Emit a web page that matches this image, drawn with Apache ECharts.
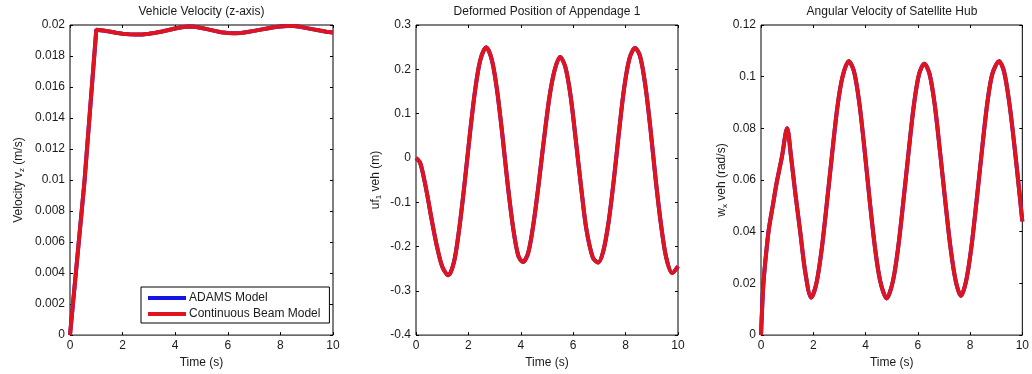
<!DOCTYPE html>
<html>
<head>
<meta charset="utf-8">
<script src="https://cdn.jsdelivr.net/npm/echarts@6/dist/echarts.min.js"></script>
<style>
html,body{margin:0;padding:0;background:#fff;}
#c{width:1032px;height:374px;}
</style>
</head>
<body>
<div id="c"></div>
<script>
// ---- Data ----
var xTicks = [0, 2, 4, 6, 8, 10];

// Panel 1: Vehicle Velocity (z-axis)
var t1 = [0, 0.55, 1.0, 1.25, 1.5, 1.75, 2.0, 2.25, 2.5, 2.75, 3.0, 3.25, 3.5, 3.75, 4.0, 4.25, 4.5, 4.75, 5.0, 5.25, 5.5, 5.75, 6.0, 6.25, 6.5, 6.75, 7.0, 7.25, 7.5, 7.75, 8.0, 8.25, 8.5, 8.75, 9.0, 9.25, 9.5, 9.75, 10];
var v1 = [0, 0.0099, 0.0197, 0.01965, 0.01958, 0.0195, 0.01944, 0.0194, 0.01938, 0.01939, 0.01943, 0.0195, 0.01958, 0.01968, 0.01977, 0.01985, 0.0199, 0.01988, 0.01981, 0.01972, 0.01962, 0.01953, 0.01948, 0.01947, 0.01949, 0.01955, 0.01962, 0.0197, 0.01978, 0.01986, 0.01991, 0.01994, 0.01993, 0.01988, 0.0198, 0.01972, 0.01964, 0.01957, 0.01952];
var yTicks1 = [0, 0.002, 0.004, 0.006, 0.008, 0.01, 0.012, 0.014, 0.016, 0.018, 0.02];

// Panel 2: Deformed Position of Appendage 1
var t2 = [0, 0.15, 0.3, 0.45, 0.6, 0.8, 1.0, 1.23, 1.45, 1.65, 1.85, 2.05, 2.25, 2.45, 2.68, 2.9, 3.1, 3.3, 3.5, 3.7, 3.9, 4.08, 4.28, 4.48, 4.68, 4.88, 5.1, 5.3, 5.5, 5.7, 5.9, 6.1, 6.3, 6.5, 6.75, 6.95, 7.15, 7.35, 7.55, 7.75, 7.95, 8.15, 8.36, 8.55, 8.75, 8.95, 9.15, 9.35, 9.55, 9.78, 10];
var u2 = [0, -0.01, -0.045, -0.09, -0.14, -0.2, -0.245, -0.265, -0.235, -0.16, -0.06, 0.05, 0.15, 0.22, 0.25, 0.22, 0.15, 0.05, -0.06, -0.155, -0.22, -0.235, -0.215, -0.15, -0.06, 0.04, 0.14, 0.2, 0.228, 0.205, 0.14, 0.04, -0.065, -0.16, -0.225, -0.236, -0.21, -0.145, -0.05, 0.06, 0.16, 0.225, 0.248, 0.23, 0.165, 0.065, -0.05, -0.15, -0.225, -0.26, -0.245];
var yTicks2 = [-0.4, -0.3, -0.2, -0.1, 0, 0.1, 0.2, 0.3];

// Panel 3: Angular Velocity of Satellite Hub
var t3 = [0, 0.05, 0.1, 0.2, 0.3, 0.45, 0.6, 0.8, 1.0, 1.15, 1.3, 1.5, 1.7, 1.92, 2.12, 2.32, 2.52, 2.72, 2.92, 3.12, 3.36, 3.56, 3.76, 3.96, 4.16, 4.36, 4.56, 4.81, 5.05, 5.25, 5.45, 5.65, 5.85, 6.05, 6.25, 6.45, 6.65, 6.85, 7.05, 7.25, 7.45, 7.65, 7.85, 8.05, 8.25, 8.45, 8.65, 8.85, 9.11, 9.3, 9.5, 9.7, 9.9, 10];
var w3 = [0, 0.012, 0.021, 0.032, 0.041, 0.05, 0.059, 0.069, 0.080, 0.069, 0.056, 0.04, 0.024, 0.0145, 0.02, 0.033, 0.051, 0.07, 0.088, 0.1, 0.106, 0.102, 0.09, 0.072, 0.052, 0.034, 0.021, 0.0142, 0.021, 0.034, 0.052, 0.071, 0.089, 0.101, 0.105, 0.101, 0.089, 0.071, 0.052, 0.034, 0.021, 0.0152, 0.021, 0.034, 0.052, 0.071, 0.089, 0.101, 0.106, 0.102, 0.09, 0.073, 0.054, 0.044];
var yTicks3 = [0, 0.02, 0.04, 0.06, 0.08, 0.1, 0.12];

var titles = ['Vehicle Velocity (z-axis)', 'Deformed Position of Appendage 1', 'Angular Velocity of Satellite Hub'];
var yNames = ['{m|Velocity v}{s|z}{m| (m/s)}', '{m|uf}{s|1}{m| veh (m)}', '{m|w}{s|x}{m| veh (rad/s)}'];
var seriesNames = ['ADAMS Model', 'Continuous Beam Model'];

// ---- Chart ----
var FONT = '"Liberation Sans", Arial, sans-serif';
var TXT = '#1a1a1a';
var grids = [
  {left: 70, top: 25, width: 263, height: 312},
  {left: 416, top: 25, width: 262, height: 312},
  {left: 761, top: 25, width: 262, height: 312}
];
var yTickSets = [yTicks1, yTicks2, yTicks3];
var nameGaps = [44, 33, 29];
var smoothing = [false, 0.3, 0.3];
var pairs = [[t1, v1], [t2, u2], [t3, w3]];

function pts(t, v) { return t.map(function (x, i) { return [x, v[i]]; }); }
function fmt(v) { return String(+v.toFixed(4)); }

var option = {
  backgroundColor: '#fff',
  animation: false,
  textStyle: {fontFamily: FONT},
  title: titles.map(function (tt, i) {
    return {text: tt, left: grids[i].left + grids[i].width / 2, top: 6, textAlign: 'center',
      padding: 0, textStyle: {fontSize: 12, fontWeight: 'normal', color: TXT, fontFamily: FONT}};
  }),
  grid: grids.map(function (g) {
    return {left: g.left, top: g.top, width: g.width, height: g.height, show: true,
      borderColor: '#000', borderWidth: 1, backgroundColor: '#fff', containLabel: false};
  }),
  legend: {
    orient: 'vertical', left: 141, top: 287,
    data: seriesNames,
    icon: 'rect', itemWidth: 38, itemHeight: 4, itemGap: 4,
    padding: [5, 9, 3, 7],
    borderColor: '#000', borderWidth: 1, backgroundColor: '#fff',
    textStyle: {fontSize: 12, color: TXT, fontFamily: FONT, padding: [0, 0, 0, -2]}
  },
  xAxis: [], yAxis: [], series: []
};

var tickStyle = {inside: true, length: 3, lineStyle: {color: '#000'}};

for (var i = 0; i < 3; i++) {
  var yt = yTickSets[i];
  var yint = +(yt[1] - yt[0]).toFixed(6);
  // bottom x
  option.xAxis.push({
    gridIndex: i, type: 'value', min: xTicks[0], max: xTicks[xTicks.length - 1], interval: xTicks[1] - xTicks[0],
    position: 'bottom',
    name: 'Time (s)', nameLocation: 'middle', nameGap: 19,
    nameTextStyle: {fontSize: 12, color: TXT, fontFamily: FONT},
    axisLine: {show: false, onZero: false}, splitLine: {show: false},
    axisTick: tickStyle,
    axisLabel: {fontSize: 12, color: TXT, margin: 5, fontFamily: FONT}
  });
  // top x (ticks only)
  option.xAxis.push({
    gridIndex: i, type: 'value', min: xTicks[0], max: xTicks[xTicks.length - 1], interval: xTicks[1] - xTicks[0],
    position: 'top', axisLine: {show: false, onZero: false}, splitLine: {show: false},
    axisTick: tickStyle, axisLabel: {show: false}
  });
  // left y
  option.yAxis.push({
    gridIndex: i, type: 'value', min: yt[0], max: yt[yt.length - 1], interval: yint,
    position: 'left',
    name: yNames[i], nameLocation: 'middle', nameGap: nameGaps[i],
    nameTextStyle: {fontSize: 12, color: TXT, fontFamily: FONT,
      rich: {m: {fontSize: 12, color: TXT, fontFamily: FONT}, s: {fontSize: 8, color: TXT, fontFamily: FONT, padding: [7, 0, 0, 0]}}},
    axisLine: {show: false, onZero: false}, splitLine: {show: false},
    axisTick: tickStyle,
    axisLabel: {fontSize: 12, color: TXT, margin: 5, fontFamily: FONT, formatter: fmt}
  });
  // right y (ticks only)
  option.yAxis.push({
    gridIndex: i, type: 'value', min: yt[0], max: yt[yt.length - 1], interval: yint,
    position: 'right', axisLine: {show: false, onZero: false}, splitLine: {show: false},
    axisTick: tickStyle, axisLabel: {show: false}
  });
  var d = pts(pairs[i][0], pairs[i][1]);
  option.series.push({
    name: seriesNames[0], type: 'line', xAxisIndex: 2 * i, yAxisIndex: 2 * i,
    data: d, showSymbol: false, smooth: smoothing[i], color: '#1414e6',
    lineStyle: {width: 4, color: '#1414e6'}
  });
  option.series.push({
    name: seriesNames[1], type: 'line', xAxisIndex: 2 * i, yAxisIndex: 2 * i,
    data: d, showSymbol: false, smooth: smoothing[i], color: '#e0141e',
    lineStyle: {width: 4, color: '#e0141e'}
  });
}

var chart = echarts.init(document.getElementById('c'), null, {renderer: 'canvas'});
chart.setOption(option);
</script>
</body>
</html>
